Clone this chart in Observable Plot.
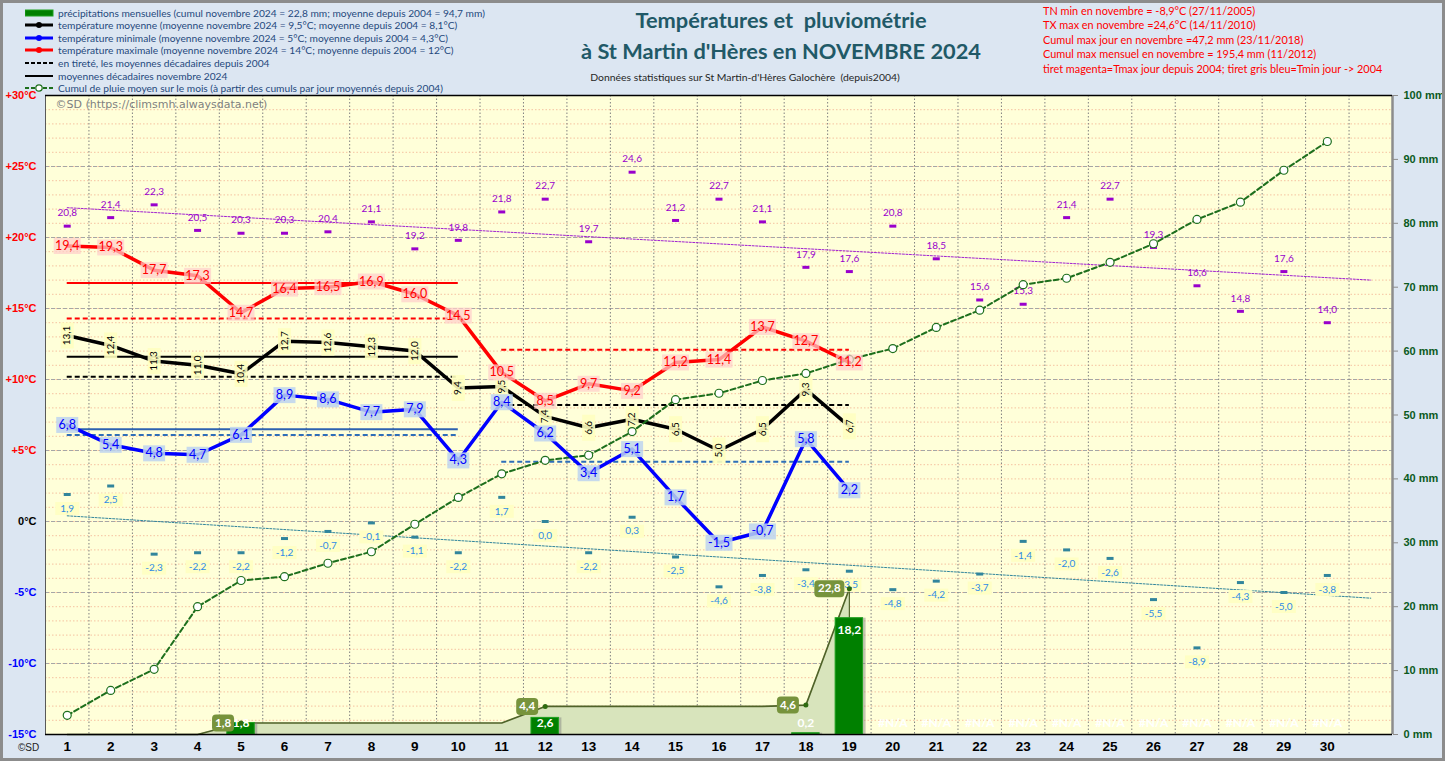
<!DOCTYPE html>
<html lang="fr"><head><meta charset="utf-8"><title>Températures et pluviométrie - St Martin d'Hères - Novembre 2024</title>
<script src="https://cdn.jsdelivr.net/npm/d3@7"></script>
<script src="https://cdn.jsdelivr.net/npm/@observablehq/plot@0.6"></script>
<style>
html,body{margin:0;padding:0;background:#DCE6F2;}
#wrap{position:relative;width:1445px;height:761px;overflow:hidden;background:#DCE6F2;}
#chart{position:absolute;left:0;top:0;}
#chart svg{display:block;}
.abs{position:absolute;white-space:pre;}
#legend{left:25px;top:6.5px;font:10.2px Lato,sans-serif;color:#1F497D;}
#legend .row{height:12.55px;display:flex;align-items:center;}
#legend svg{width:30px;height:10px;margin-right:3px;flex:none;}
#title{left:581px;top:5px;width:400px;text-align:center;font:bold 21.8px Lato,sans-serif;color:#215967;line-height:30.5px;}
#subtitle{left:545px;top:71px;width:400px;text-align:center;font:10.4px Lato,sans-serif;color:#262626;}
#notes{left:1043px;top:4px;font:10.9px Lato,sans-serif;color:#FF0000;line-height:14.4px;}
#copy{left:18px;top:742px;font:10px "Liberation Sans",sans-serif;color:#222;}
#border{left:0;top:0;width:1445px;height:761px;box-sizing:border-box;border:3px solid #8C8C8C;pointer-events:none;}
</style></head>
<body>
<div id="wrap">
  <div id="chart"></div>
  <div id="legend" class="abs"></div>
  <div id="title" class="abs">Températures et  pluviométrie
à St Martin d'Hères en NOVEMBRE 2024</div>
  <div id="subtitle" class="abs">Données statistiques sur St Martin-d'Hères Galochère  (depuis2004)</div>
  <div id="notes" class="abs"></div>
  <div id="copy" class="abs">©SD</div>
  <div id="border" class="abs"></div>
</div>
<script>
// ---------- DATA ----------
const days = [1,2,3,4,5,6,7,8,9,10,11,12,13,14,15,16,17,18,19,20,21,22,23,24,25,26,27,28,29,30];
const tmax  = [19.4,19.3,17.7,17.3,14.7,16.4,16.5,16.9,16.0,14.5,10.5,8.5,9.7,9.2,11.2,11.4,13.7,12.7,11.2];
const tmean = [13.1,12.4,11.3,11.0,10.4,12.7,12.6,12.3,12.0,9.4,9.5,7.4,6.6,7.2,6.5,5.0,6.5,9.3,6.7];
const tmin  = [6.8,5.4,4.8,4.7,6.1,8.9,8.6,7.7,7.9,4.3,8.4,6.2,3.4,5.1,1.7,-1.5,-0.7,5.8,2.2];
const recMax = [20.8,21.4,22.3,20.5,20.3,20.3,20.4,21.1,19.2,19.8,21.8,22.7,19.7,24.6,21.2,22.7,21.1,17.9,17.6,20.8,18.5,15.6,15.3,21.4,22.7,19.3,16.6,14.8,17.6,14.0];
const recMin = [1.9,2.5,-2.3,-2.2,-2.2,-1.2,-0.7,-0.1,-1.1,-2.2,1.7,0.0,-2.2,0.3,-2.5,-4.6,-3.8,-3.4,-3.5,-4.8,-4.2,-3.7,-1.4,-2.0,-2.6,-5.5,-8.9,-4.3,-5.0,-3.8];
const rainAvgCum = [3.0,6.9,10.2,20.0,24.1,24.7,26.8,28.6,32.9,37.1,40.8,42.9,43.7,47.4,52.4,53.4,55.4,56.5,58.7,60.4,63.7,66.4,70.4,71.4,73.9,76.8,80.6,83.3,88.3,92.8];
const rainDaily = [0,0,0,0,1.8,0,0,0,0,0,0,2.6,0,0,0,0,0,0.2,18.2];
const rainCum   = [0,0,0,0,1.8,1.8,1.8,1.8,1.8,1.8,1.8,4.4,4.4,4.4,4.4,4.4,4.4,4.6,22.8];
// decades
const decFrom = [1, 11];
const decTo   = [10, 19];
const decMax2024  = [16.8];
const decMean2024 = [11.6];
const decMin2024  = [6.5];
const decMaxNorm  = [14.3, 12.1];
const decMeanNorm = [10.2, 8.2];
const decMinNorm  = [6.1, 4.2];
// trend lines
const trendDays = [1, 31];
const trendMax = [22.1, 17.0];
const trendMin = [0.4, -5.4];
// axis ticks
const tempTicks = [30,25,20,15,10,5,0,-5,-10,-15];
const mmTicks = [0,10,20,30,40,50,60,70,80,90,100];
// texts
const legendLabels = [
  "précipitations mensuelles (cumul novembre 2024 = 22,8 mm; moyenne depuis 2004 = 94,7 mm)",
  "température moyenne (moyenne novembre 2024 = 9,5°C; moyenne depuis 2004 = 8,1°C)",
  "température minimale (moyenne novembre 2024 = 5°C; moyenne depuis 2004 = 4,3°C)",
  "température maximale (moyenne novembre 2024 = 14°C; moyenne depuis 2004 = 12°C)",
  "en tireté, les moyennes décadaires depuis 2004",
  "moyennes décadaires novembre 2024",
  "Cumul de pluie moyen sur le mois (à partir des cumuls par jour moyennés depuis 2004)"
];
const notes = [
  "TN min en novembre = -8,9°C (27/11/2005)",
  "TX max en novembre =24,6°C (14/11/2010)",
  "Cumul max jour en novembre =47,2 mm (23/11/2018)",
  "Cumul max mensuel en novembre = 195,4 mm (11/2012)",
  "tiret magenta=Tmax jour depuis 2004; tiret gris bleu=Tmin jour -> 2004"
];

// ---------- HELPERS ----------
const fmt = v => v.toFixed(1).replace(".", ",");
const toT = mm => -15 + mm * 0.45;            // secondary axis: mm -> °C position
const box = (w, h) => ({draw(ctx){ ctx.rect(-w/2, -h/2, w, h); }});
const rbox = (w, h, r) => ({draw(ctx){
  const x0=-w/2, y0=-h/2, x1=w/2, y1=h/2;
  ctx.moveTo(x0+r,y0); ctx.lineTo(x1-r,y0); ctx.arcTo(x1,y0,x1,y0+r,r);
  ctx.lineTo(x1,y1-r); ctx.arcTo(x1,y1,x1-r,y1,r); ctx.lineTo(x0+r,y1);
  ctx.arcTo(x0,y1,x0,y1-r,r); ctx.lineTo(x0,y0+r); ctx.arcTo(x0,y0,x0+r,y0,r); ctx.closePath();
}});

const obs = tmax.map((v,i)=>({day:days[i], tmax:v, tmean:tmean[i], tmin:tmin[i], rain:rainDaily[i], cum:rainCum[i]}));
const all = days.map((d,i)=>({day:d, recMax:recMax[i], recMin:recMin[i], avg:rainAvgCum[i]}));
const decNorm = decFrom.map((f,i)=>({from:f, to:decTo[i], max:decMaxNorm[i], mean:decMeanNorm[i], min:decMinNorm[i]}));
const dec24 = decMax2024.map((v,i)=>({from:decFrom[i], to:decTo[i], max:v, mean:decMean2024[i], min:decMin2024[i]}));
const trend = trendDays.map((d,i)=>({day:d, max:trendMax[i], min:trendMin[i]}));
const naDays = days.slice(obs.length);
const minorT = d3.range(-15, 31, 1);
const majorT = d3.range(-15, 31, 5);
const bounds = days.map(d => d + 0.5);

function labelled(data, key, opt){
  const short = data.filter(d => fmt(d[key]).length <= 3);
  const long  = data.filter(d => fmt(d[key]).length > 3);
  return [
    Plot.dot(short, {x:"day", y:key, symbol: box(opt.ws, opt.h), fill: opt.bg, fillOpacity: opt.op, stroke:null}),
    Plot.dot(long,  {x:"day", y:key, symbol: box(opt.wl, opt.h), fill: opt.bg, fillOpacity: opt.op, stroke:null}),
    Plot.text(data, {x:"day", y:key, text: d => fmt(d[key]), fill: opt.color, fontSize: opt.fs, fontFamily:"Lato", rotate: opt.rotate || 0})
  ];
}

const rainDays = obs.filter(d => d.rain > 0);

const chart = Plot.plot({
  width: 1445, height: 761,
  marginLeft: 45, marginRight: 53, marginTop: 95, marginBottom: 27,
  x: {domain: [0.5, 31.5]},
  y: {domain: [-15, 30]},
  style: {background: "#DCE6F2", fontFamily: "Lato, sans-serif", fontSize: "10px", overflow: "visible"},
  marks: [
    Plot.frame({fill: "#FFFFD9", stroke: null}),
    Plot.ruleY(minorT, {stroke: "#F5C2A0", strokeDasharray: "1.5,2", strokeWidth: 1}),
    Plot.ruleY(majorT, {stroke: "#A6A6A6", strokeDasharray: "4,2", strokeWidth: 1}),
    Plot.ruleX(bounds, {stroke: "#808080", strokeDasharray: "1.5,2", strokeWidth: 1}),
    Plot.text(["©SD (https://climsmh.alwaysdata.net)"], {frameAnchor: "top-left", dx: 10, dy: 5, fill: "#7F7F7F", fontSize: 11, fontFamily: "DejaVu Sans"}),

    // 2024 cumulative rain (area)
    Plot.areaY(obs, {x: "day", y1: -15, y2: d => toT(d.cum), fill: "#D8E4BC"}),
    Plot.line(obs, {x: "day", y: d => toT(d.cum), stroke: "#4F6228", strokeWidth: 1.6}),
    Plot.ruleX(obs.slice(-1), {x: "day", y1: -15, y2: d => toT(d.cum), stroke: "#4F6228", strokeWidth: 1.2}),
    // daily rain bars
    Plot.rectY(rainDays, {x1: d => d.day - 0.5, x2: d => d.day + 0.5, y1: -15, y2: d => toT(d.rain), insetLeft: 8, insetRight: 8, fill: "#7F7F7F", fillOpacity: 0.45, dx: 3}),
    Plot.rectY(rainDays, {x1: d => d.day - 0.5, x2: d => d.day + 0.5, y1: -15, y2: d => toT(d.rain), insetLeft: 8, insetRight: 8, fill: "#008000", stroke: "#1FA01F", strokeWidth: 1}),
    Plot.text(rainDays.filter(d => d.rain > 5), {x: "day", y: d => toT(d.rain), dy: 12, text: d => fmt(d.rain), fill: "white", fontWeight: "bold", fontSize: 12, fontFamily: "Lato"}),
    Plot.text(rainDays.filter(d => d.rain <= 5), {x: "day", y: toT(1.7), text: d => fmt(d.rain), fill: "white", fontWeight: "bold", fontSize: 12, fontFamily: "Lato"}),
    Plot.text(naDays, {x: d => d, y: toT(1.7), text: () => "#N/A", fill: "white", fontWeight: "bold", fontSize: 12, fontFamily: "Lato"}),

    // trend lines
    Plot.line(trend, {x: "day", y: "max", stroke: "#A020D0", strokeWidth: 1, strokeDasharray: "2,1.5"}),
    Plot.line(trend, {x: "day", y: "min", stroke: "#31859C", strokeWidth: 1, strokeDasharray: "2,1.5"}),

    // decade means
    Plot.ruleY(dec24,   {y: "max",  x1: "from", x2: "to", stroke: "#FF0000", strokeWidth: 2}),
    Plot.ruleY(decNorm, {y: "max",  x1: "from", x2: "to", stroke: "#FF0000", strokeWidth: 2, strokeDasharray: "5,3"}),
    Plot.ruleY(dec24,   {y: "mean", x1: "from", x2: "to", stroke: "#000000", strokeWidth: 2}),
    Plot.ruleY(decNorm, {y: "mean", x1: "from", x2: "to", stroke: "#000000", strokeWidth: 2, strokeDasharray: "5,3"}),
    Plot.ruleY(dec24,   {y: "min",  x1: "from", x2: "to", stroke: "#2E62B0", strokeWidth: 2}),
    Plot.ruleY(decNorm, {y: "min",  x1: "from", x2: "to", stroke: "#2E6EB8", strokeWidth: 2, strokeDasharray: "5,3"}),

    // records
    Plot.dot(all, {x: "day", y: "recMax", symbol: box(7, 3), fill: "#9900CC", stroke: null}),
    Plot.text(all, {x: "day", y: "recMax", dy: -13, text: d => fmt(d.recMax), fill: "#9900CC", fontSize: 10, fontFamily: "Lato"}),
    Plot.dot(all, {x: "day", y: "recMin", symbol: box(7, 3), fill: "#31859C", stroke: null}),
    Plot.dot(all, {x: "day", y: "recMin", dy: 14, symbol: box(24, 13), fill: "#FFFFC4", stroke: null}),
    Plot.text(all, {x: "day", y: "recMin", dy: 14, text: d => fmt(d.recMin), fill: "#2E8BE6", fontSize: 10, fontFamily: "Lato"}),

    // mean temperature
    Plot.line(obs, {x: "day", y: "tmean", stroke: "#000000", strokeWidth: 3.5, strokeLinejoin: "round"}),
    ...labelled(obs, "tmean", {ws: 13, wl: 13, h: 26, bg: "#FFFFC0", op: 0.9, color: "#000", fs: 10, rotate: -90}),

    // average cumulative rain
    Plot.line(all, {x: "day", y: d => toT(d.avg), stroke: "#1D6F1D", strokeWidth: 2, strokeDasharray: "5,3"}),
    Plot.dot(all, {x: "day", y: d => toT(d.avg), r: 4, fill: "white", stroke: "#1D6F1D", strokeWidth: 1.2}),

    // max temperature
    Plot.line(obs, {x: "day", y: "tmax", stroke: "#FF0000", strokeWidth: 3.5, strokeLinejoin: "round"}),
    ...labelled(obs, "tmax", {ws: 22, wl: 27, h: 16, bg: "#FFCFCA", op: 0.72, color: "#FF0000", fs: 12.5}),

    // min temperature
    Plot.line(obs, {x: "day", y: "tmin", stroke: "#0000FF", strokeWidth: 3.5, strokeLinejoin: "round"}),
    ...labelled(obs, "tmin", {ws: 22, wl: 27, h: 16, bg: "#BDD3EF", op: 0.85, color: "#0000FF", fs: 12.5}),

    // labels on 2024 cumulative rain
    Plot.dot(rainDays, {x: "day", y: d => toT(d.cum), r: 2.5, fill: "#2E6B10", stroke: null}),
    Plot.dot(rainDays.filter(d => d.cum < 10), {x: "day", y: d => toT(d.cum), dx: -18, symbol: rbox(22, 17, 4), fill: "#77933C", stroke: null}),
    Plot.dot(rainDays.filter(d => d.cum >= 10), {x: "day", y: d => toT(d.cum), dx: -20, symbol: rbox(30, 17, 4), fill: "#77933C", stroke: null}),
    Plot.text(rainDays.filter(d => d.cum < 10), {x: "day", y: d => toT(d.cum), dx: -18, text: d => fmt(d.cum), fill: "white", fontWeight: "bold", fontSize: 11.5, fontFamily: "Lato"}),
    Plot.text(rainDays.filter(d => d.cum >= 10), {x: "day", y: d => toT(d.cum), dx: -20, text: d => fmt(d.cum), fill: "white", fontWeight: "bold", fontSize: 11.5, fontFamily: "Lato"}),

    // plot borders
    Plot.ruleX([0.5], {stroke: "#595959", strokeWidth: 1}),
    Plot.ruleX([31.5], {stroke: "#8C8C8C", strokeWidth: 2.5}),
    Plot.ruleY([30, -15], {stroke: "#000000", strokeWidth: 1.5}),

    // axes
    Plot.axisX(days, {anchor: "bottom", tickSize: 0, tickPadding: 7, fontSize: 13.5, fontWeight: "bold", fontFamily: "Liberation Sans", fill: "#000"}),
    Plot.axisY(tempTicks.filter(t => t > 0), {anchor: "left", tickSize: 0, tickPadding: 9, tickFormat: t => `+${t}°C`, fontSize: 11, fontWeight: "bold", fontFamily: "Liberation Sans", fill: "#FF0000", color: "#FF0000"}),
    Plot.axisY(tempTicks.filter(t => t === 0), {anchor: "left", tickSize: 0, tickPadding: 9, tickFormat: t => `${t}°C`, fontSize: 11, fontWeight: "bold", fontFamily: "Liberation Sans", fill: "#000", color: "#000"}),
    Plot.axisY(tempTicks.filter(t => t < 0), {anchor: "left", tickSize: 0, tickPadding: 9, tickFormat: t => `${t}°C`, fontSize: 11, fontWeight: "bold", fontFamily: "Liberation Sans", fill: "#0000FF", color: "#0000FF"}),
    Plot.axisY(mmTicks.map(toT), {anchor: "right", tickSize: 5, tickPadding: 6, tickFormat: t => `${Math.round((t + 15) / 0.45)} mm`, fontSize: 11, fontWeight: "bold", fontFamily: "Liberation Sans", fill: "#0B5A1E", stroke: "#8C8C8C"})
  ]
});
document.getElementById("chart").appendChild(chart);

// ---------- LEGEND (HTML) ----------
const sw = [
  `<rect x="0" y="2" width="28" height="6" fill="#008000" stroke="#1FA01F"/>`,
  `<line x1="0" y1="5" x2="28" y2="5" stroke="#000" stroke-width="3"/><circle cx="14" cy="5" r="3" fill="#000"/>`,
  `<line x1="0" y1="5" x2="28" y2="5" stroke="#0000FF" stroke-width="3"/><circle cx="14" cy="5" r="3" fill="#0000FF"/>`,
  `<line x1="0" y1="5" x2="28" y2="5" stroke="#FF0000" stroke-width="3"/><circle cx="14" cy="5" r="3" fill="#FF0000"/>`,
  `<line x1="0" y1="5" x2="28" y2="5" stroke="#000" stroke-width="2" stroke-dasharray="4,2"/>`,
  `<line x1="0" y1="5" x2="28" y2="5" stroke="#000" stroke-width="2"/>`,
  `<line x1="0" y1="5" x2="28" y2="5" stroke="#1D6F1D" stroke-width="2" stroke-dasharray="4,2"/><circle cx="14" cy="5" r="3.2" fill="white" stroke="#1D6F1D" stroke-width="1.2"/>`
];
const leg = d3.select("#legend");
legendLabels.forEach((t, i) => {
  const row = leg.append("div").attr("class", "row");
  row.append("svg").attr("viewBox", "0 0 30 10").html(sw[i]);
  row.append("span").text(t);
});
d3.select("#notes").selectAll("div").data(notes).join("div").text(d => d);
</script>
</body></html>
